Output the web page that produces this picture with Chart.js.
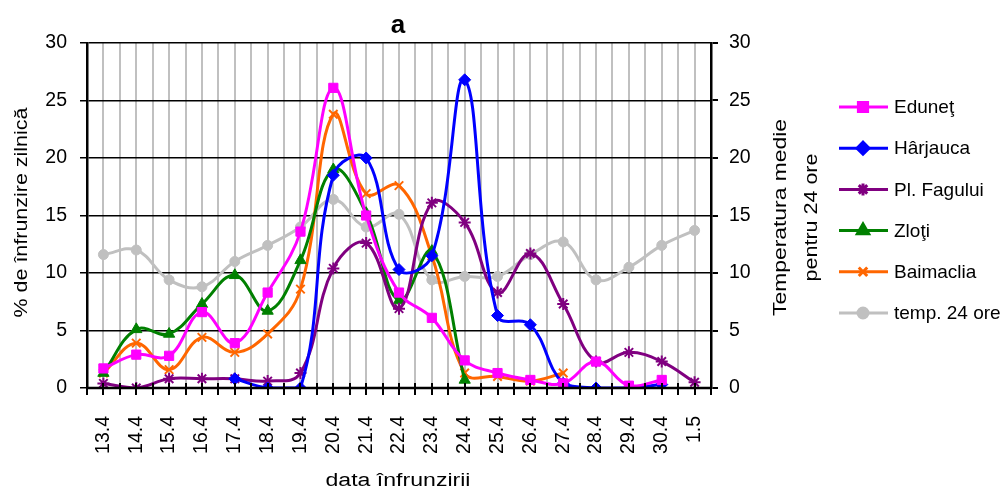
<!DOCTYPE html>
<html>
<head>
<meta charset="utf-8">
<script src="https://cdn.jsdelivr.net/npm/chart.js@4.4.0/dist/chart.umd.min.js"></script>
<style>
  html, body { margin: 0; padding: 0; background: #fff; }
  canvas { display: block; }
</style>
</head>
<body>
<canvas id="chart" width="1003" height="491"></canvas>
<script>
// Chart data
const labels = ['13.4', '14.4', '15.4', '16.4', '17.4', '18.4', '19.4', '20.4', '21.4', '22.4',
                '23.4', '24.4', '25.4', '26.4', '27.4', '28.4', '29.4', '30.4', '1.5'];

const eduneti   = [1.7, 2.9, 2.8, 6.6, 3.9, 8.3, 13.6, 26.1, 15.0, 8.3, 6.1, 2.4, 1.3, 0.7, 0.4, 2.3, 0.2, 0.7, null];
const harjauca  = [null, null, null, null, 0.8, 0, 0, 18.5, 20.0, 10.3, 11.5, 26.8, 6.3, 5.5, 0.4, 0, 0, 0.3, null];
const fagului   = [0.4, 0, 0.8, 0.8, 0.8, 0.6, 1.3, 10.4, 12.6, 6.9, 16.1, 14.4, 8.3, 11.7, 7.3, 2.3, 3.1, 2.3, 0.5];
const zloti     = [1.3, 5.1, 4.7, 7.3, 9.8, 6.7, 11.1, 19.0, 15.2, 7.6, 11.9, 0.7, null, null, null, null, null, null, null];
const baimaclia = [1.3, 3.9, 1.6, 4.4, 3.1, 4.7, 8.6, 23.8, 16.9, 17.6, 11.5, 1.3, 1.0, 0.6, 1.3, null, null, null, null];
const temp24    = [11.6, 12.0, 9.4, 8.8, 11.0, 12.4, 14.0, 16.4, 14.0, 15.1, 9.4, 9.7, 9.7, 11.6, 12.7, 9.4, 10.5, 12.4, 13.7];

const yTicks = [0, 5, 10, 15, 20, 25, 30];

const FONT = "'Liberation Sans', Arial, sans-serif";

// Build a line dataset
function series(label, data, color, pointStyle, radius, axis) {
    return {
        label: label,
        data: data,
        yAxisID: axis || 'y',
        borderColor: color,
        backgroundColor: color,
        pointBackgroundColor: color,
        pointBorderColor: color,
        borderWidth: 3,
        pointStyle: pointStyle,
        pointRadius: radius,
        pointBorderWidth: (pointStyle === 'star' || pointStyle === 'crossRot') ? 2 : 1,
        tension: 0.4,
        spanGaps: false,
        fill: false
    };
}

// Text stretched along its own direction to a given length (the original uses wide glyphs)
function stretchedText(ctx, text, x, y, angle, length) {
    const w = ctx.measureText(text).width;
    ctx.save();
    ctx.translate(x, y);
    ctx.rotate(angle);
    ctx.scale(length / w, 1);
    ctx.fillText(text, 0, 0);
    ctx.restore();
}

// Gray vertical grid + tick marks on the x axis (every half category)
const gridPlugin = {
    id: 'halfGrid',
    beforeDraw(chart) {
        const ctx = chart.ctx;
        const area = chart.chartArea;
        const step = (area.right - area.left) / labels.length / 2;
        ctx.save();
        ctx.strokeStyle = '#c0c0c0';
        ctx.lineWidth = 2;
        for (let i = 1; i < labels.length * 2; i++) {
            const x = Math.round(area.left + i * step);
            ctx.beginPath();
            ctx.moveTo(x, area.top);
            ctx.lineTo(x, area.bottom);
            ctx.stroke();
        }
        ctx.restore();
    },
    afterDatasetsDraw(chart) {
        const ctx = chart.ctx;
        const area = chart.chartArea;
        const step = (area.right - area.left) / labels.length / 2;
        ctx.save();
        ctx.strokeStyle = '#000';
        ctx.lineWidth = 2.5;
        ctx.beginPath();
        ctx.moveTo(area.left, area.bottom);
        ctx.lineTo(area.right, area.bottom);
        ctx.stroke();
        ctx.lineWidth = 2;
        for (let i = 0; i <= labels.length * 2; i++) {
            const x = Math.round(area.left + i * step);
            ctx.beginPath();
            ctx.moveTo(x, area.bottom - 5);
            ctx.lineTo(x, area.bottom + 7);
            ctx.stroke();
        }
        ctx.restore();
    }
};

// Title, axis titles and the legend on the right
const decorPlugin = {
    id: 'decor',
    afterDraw(chart) {
        const ctx = chart.ctx;
        const area = chart.chartArea;
        const midX = (area.left + area.right) / 2;
        const midY = (area.top + area.bottom) / 2;
        ctx.save();
        ctx.fillStyle = '#000';

        ctx.font = 'bold 26px ' + FONT;
        ctx.textAlign = 'center';
        ctx.textBaseline = 'alphabetic';
        ctx.fillText('a', midX - 1, 33);

        ctx.font = '18px ' + FONT;
        ctx.textBaseline = 'middle';
        stretchedText(ctx, '% de înfrunzire zilnică', 22, midY - 3, -Math.PI / 2, 210);
        stretchedText(ctx, 'Temperatura medie', 781, midY + 2, -Math.PI / 2, 197);
        stretchedText(ctx, 'pentru 24 ore', 812, midY + 2, -Math.PI / 2, 128);
        ctx.textBaseline = 'alphabetic';
        stretchedText(ctx, 'data înfrunzirii', midX - 1, 486, 0, 145);

        ctx.font = '19px ' + FONT;
        chart.data.datasets.forEach(function(ds, i) {
            const y = 107 + i * 41.2;
            ctx.strokeStyle = ds.borderColor;
            ctx.lineWidth = 3;
            ctx.beginPath();
            ctx.moveTo(839, y);
            ctx.lineTo(888, y);
            ctx.stroke();
            ctx.fillStyle = ds.borderColor;
            Chart.helpers.drawPoint(ctx, {
                pointStyle: ds.pointStyle,
                radius: ds.pointRadius,
                borderWidth: ds.pointBorderWidth,
                rotation: 0
            }, 863, y);
            ctx.fillStyle = '#000';
            ctx.textAlign = 'left';
            ctx.textBaseline = 'middle';
            ctx.fillText(ds.label, 894, y + 1);
        });
        ctx.restore();
    }
};

const ctx = document.getElementById('chart').getContext('2d');

new Chart(ctx, {
    type: 'line',
    data: {
        labels: labels,
        datasets: [
            series('Eduneţ', eduneti, '#ff00ff', 'rect', 6.5),
            series('Hârjauca', harjauca, '#0000ff', 'rectRot', 6),
            series('Pl. Fagului', fagului, '#800080', 'star', 6),
            series('Zloţi', zloti, '#008000', 'triangle', 6.5),
            series('Baimaclia', baimaclia, '#ff6600', 'crossRot', 6),
            series('temp. 24 ore', temp24, '#c0c0c0', 'circle', 5, 'y2')
        ]
    },
    options: {
        responsive: false,
        animation: false,
        layout: { padding: { top: 43, left: 0, right: 0, bottom: 0 } },
        plugins: {
            legend: { display: false },
            tooltip: { enabled: false }
        },
        scales: {
            x: {
                type: 'category',
                offset: true,
                grid: { display: false },
                border: { display: false },
                afterFit: function(scale) { scale.height = 103; },
                ticks: {
                    autoSkip: false,
                    minRotation: 90,
                    maxRotation: 90,
                    padding: 20,
                    color: '#000',
                    font: { family: FONT, size: 19.5 }
                }
            },
            y: {
                position: 'left',
                min: 0,
                max: 30,
                afterFit: function(scale) { scale.width = 87; },
                afterBuildTicks: function(scale) { scale.ticks = yTicks.map(v => ({ value: v })); },
                grid: { color: '#000', lineWidth: 1.5, tickLength: 7 },
                border: { color: '#000', width: 2.5 },
                ticks: {
                    padding: 13,
                    color: '#000',
                    font: { family: FONT, size: 19.5 }
                }
            },
            y2: {
                position: 'right',
                min: 0,
                max: 30,
                afterFit: function(scale) { scale.width = 292; },
                afterBuildTicks: function(scale) { scale.ticks = yTicks.map(v => ({ value: v })); },
                grid: { drawOnChartArea: false, color: '#000', lineWidth: 2, tickLength: 7 },
                border: { color: '#000', width: 2.5 },
                ticks: {
                    padding: 11,
                    color: '#000',
                    font: { family: FONT, size: 19.5 }
                }
            }
        }
    },
    plugins: [gridPlugin, decorPlugin]
});
</script>
</body>
</html>
